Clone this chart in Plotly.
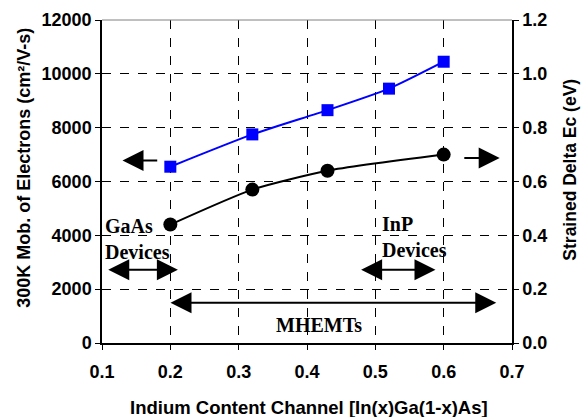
import plotly.graph_objects as go

# Electron mobility (left axis) vs indium content
x_mob = [0.2, 0.32, 0.43, 0.52, 0.6]
mobility = [6550, 7750, 8650, 9450, 10450]

# Strained conduction band offset (right axis)
x_ec = [0.2, 0.32, 0.43, 0.6]
delta_ec = [0.44, 0.57, 0.64, 0.70]

x_ticks = [0.1, 0.2, 0.3, 0.4, 0.5, 0.6, 0.7]
y_left_ticks = [0, 2000, 4000, 6000, 8000, 10000, 12000]
y_right_ticks = [0.0, 0.2, 0.4, 0.6, 0.8, 1.0, 1.2]

sans = "Liberation Sans, Arial, sans-serif"
serif = "Liberation Serif, Times New Roman, serif"

fig = go.Figure()
fig.add_trace(go.Scatter(
    x=x_mob, y=mobility, mode="lines+markers",
    line=dict(color="#0000ff", width=2, shape="spline", smoothing=0.6),
    marker=dict(symbol="square", size=12, color="#0000ff"),
    showlegend=False, yaxis="y",
))
fig.add_trace(go.Scatter(
    x=x_ec, y=delta_ec, mode="lines+markers",
    line=dict(color="black", width=2, shape="spline", smoothing=0.6),
    marker=dict(symbol="circle", size=14, color="black"),
    showlegend=False, yaxis="y2",
))

grid = dict(showgrid=True, gridcolor="black", griddash="dash", gridwidth=1)
tickfont = dict(family=sans, size=18, color="black")
common = dict(showline=True, linecolor="black", linewidth=1.5, ticks="outside",
              ticklen=5, tickcolor="black", tickfont=tickfont, zeroline=False,
              automargin=False)

fig.update_layout(
    width=581, height=417,
    margin=dict(l=102, r=69, t=20, b=74),
    paper_bgcolor="white", plot_bgcolor="white",
    font=dict(family=sans, color="black"),
    xaxis=dict(range=[0.1, 0.7], tickvals=x_ticks,
               ticktext=[f"<b>{v:.1f}</b>" for v in x_ticks],
               ticklabelstandoff=7, **common, **grid),
    yaxis=dict(range=[0, 12000], tickvals=y_left_ticks,
               ticktext=[f"<b>{v}</b>" for v in y_left_ticks], **common, **grid),
    yaxis2=dict(range=[0, 1.2], tickvals=y_right_ticks,
                ticktext=[f"<b>{v:.1f}</b>" for v in y_right_ticks],
                overlaying="y", side="right", showgrid=False, **common),
)

# Axis titles
title = dict(showarrow=False, xref="paper", yref="paper", xanchor="center", yanchor="middle")
fig.add_annotation(x=0.506, y=-0.2, text="<b>Indium Content Channel [In(x)Ga(1-x)As]</b>",
                   font=dict(family=sans, size=18.5), **title)
fig.add_annotation(x=-0.19, y=0.543, text="<b>300K Mob. of Electrons (cm²/V-s)</b>",
                   textangle=-90, font=dict(family=sans, size=18), **title)
fig.add_annotation(x=1.141, y=0.536, text="<b>Strained Delta Ec (eV)</b>",
                   textangle=-90, font=dict(family=sans, size=17.5), **title)

# Top frame line
fig.add_shape(type="line", xref="paper", yref="paper", x0=0, x1=1, y0=1, y1=1,
              line=dict(color="#808080", width=1))

arrow = dict(showarrow=True, arrowcolor="black", arrowwidth=2, arrowsize=2.1,
             arrowhead=2, axref="x", ayref="y", xref="x", yref="y", text="")

# Axis indicator arrows
fig.add_annotation(x=0.13, y=6780, ax=0.183, ay=6780, **arrow)
fig.add_annotation(x=0.682, y=6870, ax=0.628, ay=6870, **arrow)

# Device range arrows
fig.add_annotation(x=0.211, y=2720, ax=0.107, ay=2720, arrowside="end+start", **arrow)
fig.add_annotation(x=0.588, y=2720, ax=0.477, ay=2720, arrowside="end+start", **arrow)
fig.add_annotation(x=0.677, y=1500, ax=0.198, ay=1500, arrowside="end+start", **arrow)

label = dict(showarrow=False, xref="x", yref="y", font=dict(family=serif, size=20, color="black"))
fig.add_annotation(x=0.102, y=3870, text="<b>GaAs<br>Devices</b>", xanchor="left",
                   align="left", **label)
fig.add_annotation(x=0.507, y=3945, text="<b>InP<br>Devices</b>", xanchor="left",
                   align="left", **label)
fig.add_annotation(x=0.418, y=680, text="<b>MHEMTs</b>", xanchor="center", **label)

fig.write_html("out.html")
